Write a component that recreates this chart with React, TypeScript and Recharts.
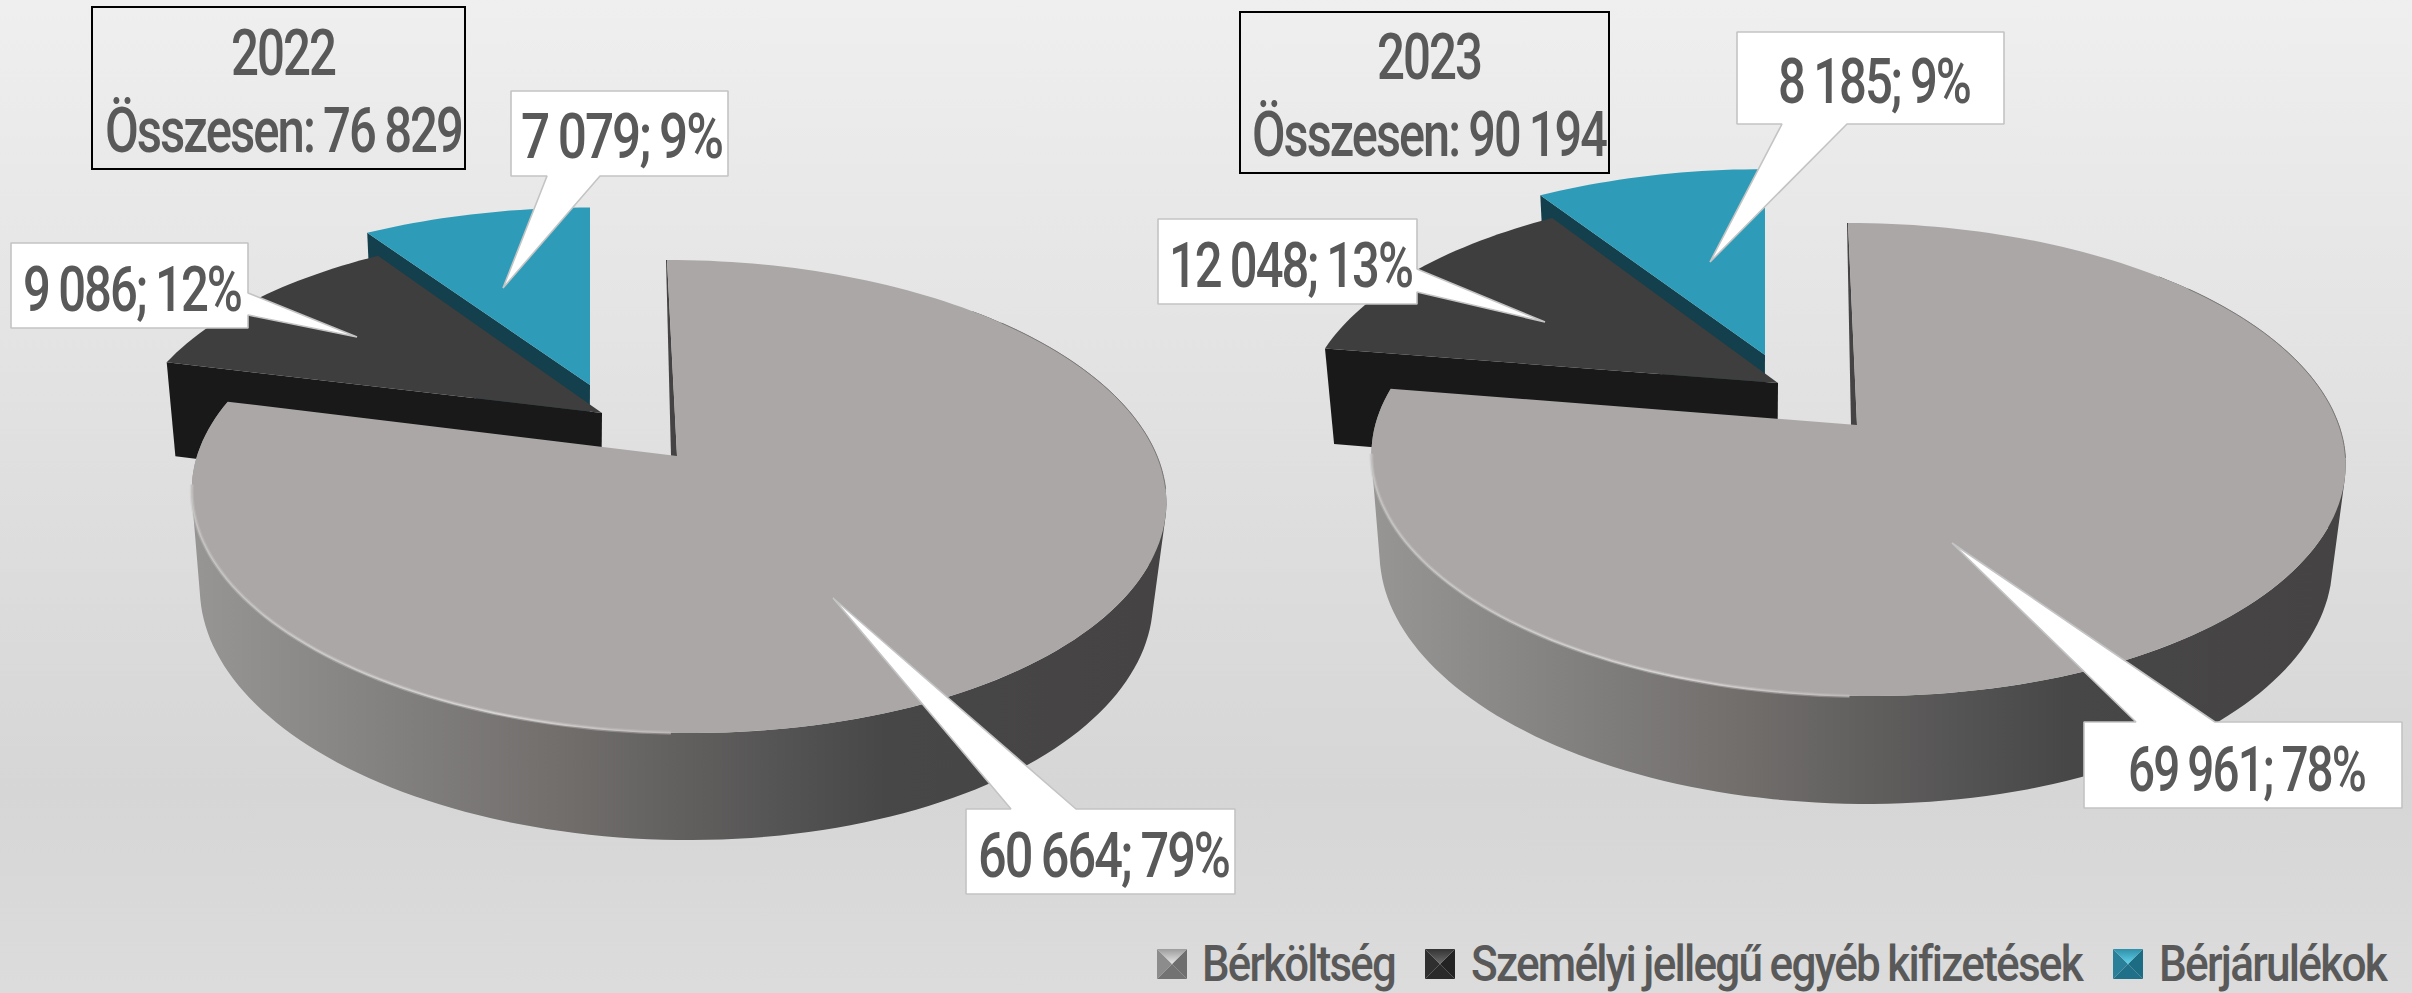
import React from "react";
import { PieChart, Pie, Legend } from "recharts";

const seriesNames = ["Bérköltség", "Személyi jellegű egyéb kifizetések", "Bérjárulékok"];
const values2022 = [60664, 9086, 7079];
const values2023 = [69961, 12048, 8185];
const years = ["2022", "2023"];
const totals = ["Összesen: 76 829", "Összesen: 90 194"];

const rows = (vals: number[]) =>
  seriesNames.map((name, i) => ({ name, value: vals[i] })).reverse();

const FONT = "Roboto";
const TEXT = "#595959";

type Pt = [number, number];
const view2022 = {
  id: "a", a: 480, b: 229.6, p: 0.171, vx: 562, s: 0.978, off: 96, sy: 1.04,
  slices: [
    { cx: 677, cy: 456, rx: 1, ry: 1, sh: 11.7 },
    { cx: 602, cy: 413, rx: 0.975, ry: 0.935, sh: 0 },
    { cx: 590, cy: 385, rx: 0.97, ry: 0.905, sh: 0 },
  ],
  labels: [
    { box: [966, 809, 1235, 894], ptr: [[1011, 809], [833, 598], [1076, 809]], tx: [978, 1229], base: 877 },
    { box: [11, 243, 248, 328], ptr: [[248, 293], [357, 337], [248, 315]], tx: [23, 241], base: 311 },
    { box: [511, 91, 728, 176], ptr: [[600, 176], [503, 288], [547, 176]], tx: [521, 722], base: 158 },
  ],
};
const view2023 = {
  id: "b", a: 481.8, b: 231.5, p: 0.146, vx: 1742, s: 0.978, off: 97, sy: 1.04,
  slices: [
    { cx: 1857, cy: 425, rx: 1, ry: 1, sh: 10.3 },
    { cx: 1778, cy: 383, rx: 0.975, ry: 0.95, sh: 0 },
    { cx: 1765, cy: 355, rx: 0.97, ry: 0.92, sh: 0 },
  ],
  labels: [
    { box: [2084, 722, 2402, 808], ptr: [[2136, 722], [1952, 543], [2215, 722]], tx: [2128, 2365], base: 791 },
    { box: [1158, 219, 1417, 304], ptr: [[1417, 269], [1545, 322], [1417, 292]], tx: [1169, 1412], base: 287 },
    { box: [1737, 32, 2004, 124], ptr: [[1847, 124], [1710, 262], [1782, 124]], tx: [1778, 1970], base: 103 },
  ],
};
type View = typeof view2022;

const topColors = ["#aba7a6", "#3e3e3e", "#2e9cb8"];
const wallColors = ["#454343", "#191919", "#143f4c"];

function rimPoint(v: View, i: number, deg: number): Pt {
  const g = v.slices[i];
  const t = (deg * Math.PI) / 180;
  const X = Math.sin(t);
  const Y = -Math.cos(t);
  const w = 1 - v.p * Y;
  return [g.cx + (v.a * g.rx * X + g.sh * Y) / w, g.cy + (v.b * g.ry * Y) / w];
}
function lower(v: View, i: number, q: Pt): Pt {
  const g = v.slices[i];
  return [v.vx + (q[0] - v.vx) * v.s, g.cy + (q[1] - g.cy) * v.sy + v.off];
}
function arc(v: View, i: number, from: number, to: number): Pt[] {
  const n = Math.max(2, Math.ceil(Math.abs(to - from) / 1.5));
  const out: Pt[] = [];
  for (let k = 0; k <= n; k++) out.push(rimPoint(v, i, from + ((to - from) * k) / n));
  return out;
}
const toPath = (pts: Pt[], close = true) =>
  "M" + pts.map((q) => `${q[0].toFixed(1)} ${q[1].toFixed(1)}`).join("L") + (close ? "Z" : "");

function sweep(v: View, i: number, rim: Pt[]): string {
  let d = "";
  for (let k = 0; k < rim.length - 1; k++) {
    const q: Pt[] = [rim[k], rim[k + 1], lower(v, i, rim[k + 1]), lower(v, i, rim[k])];
    let area = 0;
    for (let j = 0; j < 4; j++) {
      const a = q[j], b = q[(j + 1) % 4];
      area += a[0] * b[1] - b[0] * a[1];
    }
    d += toPath(area < 0 ? q.slice().reverse() : q);
  }
  return d;
}

function Slice(props: any, v: View) {
  const i = seriesNames.indexOf(props.name);
  const g = v.slices[i];
  const t1 = 90 - props.endAngle;
  const t2 = 90 - props.startAngle;
  const rim = arc(v, i, t1, t2);
  const apex: Pt = [g.cx, g.cy];
  const face = toPath([apex, ...rim]);
  const gid = `wall-${v.id}`;
  const hid = `hl-${v.id}`;
  if (i === 0) {
    const first = rim[0];
    // the far end of the rim has no visible wall: start the sweep past it
    const nearRim = arc(v, i, t1 + 45, t2);
    const highlight = toPath(arc(v, i, -97, -178), false);
    return (
      <g>
        <defs>
          <linearGradient id={gid} gradientUnits="userSpaceOnUse" x1={g.cx - 478} x2={g.cx + 476} y1="0" y2="0">
            <stop offset="0" stopColor="#969594" />
            <stop offset="0.17" stopColor="#868483" />
            <stop offset="0.39" stopColor="#706d6b" />
            <stop offset="0.61" stopColor="#555454" />
            <stop offset="0.72" stopColor="#484747" />
            <stop offset="1" stopColor="#454343" />
          </linearGradient>
          <linearGradient id={hid} gradientUnits="userSpaceOnUse" x1={g.cx - 490} x2={g.cx + 120} y1="0" y2="0">
            <stop offset="0" stopColor="#c4c2c1" />
            <stop offset="0.5" stopColor="#d6d4d3" />
            <stop offset="1" stopColor="#aba7a6" />
          </linearGradient>
        </defs>
        <path d={sweep(v, i, nearRim)} fill={`url(#${gid})`} />
        <path d={toPath([[first[0] - 1, first[1]], first, apex, [g.cx - 6, g.cy]])} fill={wallColors[0]} />
        <path d={face} fill={topColors[0]} />
        <path d={highlight} fill="none" stroke={`url(#${hid})`} strokeWidth={4} strokeOpacity={0.4} />
        <path d={highlight} fill="none" stroke={`url(#${hid})`} strokeWidth={1.6} />
        <path d={toPath(arc(v, i, -310, -262), false)} fill="none" stroke="#7d7a79" strokeWidth={1} />
      </g>
    );
  }
  const start = rim[0];
  const cut: Pt[] = [start, apex, lower(v, i, apex), lower(v, i, start)];
  return (
    <g>
      <path d={toPath(cut)} fill={wallColors[i]} />
      <path d={face} fill={topColors[i]} />
    </g>
  );
}

const fmtValue = (n: number) => String(n).replace(/\B(?=(\d{3})+$)/g, " ");

let measureCtx: CanvasRenderingContext2D | null = null;
function naturalWidth(s: string, size: number, ls: number, ws: number) {
  if (!measureCtx) measureCtx = document.createElement("canvas").getContext("2d");
  measureCtx!.font = `500 ${size}px ${FONT}`;
  const spaces = s.split(" ").length - 1;
  return measureCtx!.measureText(s).width + ls * s.length + ws * spaces;
}

function FitText({ x0, x1, y, size, children }: any) {
  const s = String(children);
  const ls = -size * 0.04;
  const ws = -size * 0.02;
  const sx = (x1 - x0) / naturalWidth(s, size, ls, ws);
  return (
    <text transform={`translate(${x0} ${y}) scale(${sx.toFixed(4)} 1)`} fontFamily={FONT} fontWeight={500}
      fontSize={size} fill={TEXT} letterSpacing={ls} wordSpacing={ws}>
      {s}
    </text>
  );
}

function Callout(props: any, v: View) {
  const i = seriesNames.indexOf(props.name);
  const l = v.labels[i];
  const [x0, y0, x1, y1] = l.box;
  const ptr = l.ptr as Pt[];
  let pts: Pt[];
  if (ptr[0][1] === y0 && ptr[2][1] === y0) {
    pts = [[x0, y0], ptr[0], ptr[1], ptr[2], [x1, y0], [x1, y1], [x0, y1]];
  } else if (ptr[0][0] === x1) {
    pts = [[x0, y0], [x1, y0], ptr[0], ptr[1], ptr[2], [x1, y1], [x0, y1]];
  } else {
    pts = [[x0, y0], [x1, y0], [x1, y1], ptr[0], ptr[1], ptr[2], [x0, y1]];
  }
  return (
    <g>
      <path d={toPath(pts)} fill="#ffffff" stroke="#c4c4c4" strokeWidth={1.6} strokeLinejoin="bevel" />
      <FitText x0={l.tx[0]} x1={l.tx[1]} y={l.base} size={63}>
        {`${fmtValue(props.value)}; ${Math.round(props.percent * 100)}%`}
      </FitText>
    </g>
  );
}

function TitleBox({ i, box, yr, tot }: any) {
  return (
    <g>
      <rect x={box[0]} y={box[1]} width={box[2] - box[0]} height={box[3] - box[1]} fill="none" stroke="#000" strokeWidth={2} />
      <FitText x0={yr[0]} x1={yr[1]} y={yr[2]} size={64}>{years[i]}</FitText>
      <FitText x0={tot[0]} x1={tot[1]} y={tot[2]} size={63}>{totals[i]}</FitText>
    </g>
  );
}

const legendColors = [
  ["#9c9c9c", "#e6e6e6", "#8c8c8c", "#6e6e6e", "#727272"],
  ["#333333", "#6c6c6c", "#2f2f2f", "#232323", "#2a2a2a"],
  ["#2f8fa8", "#62d2ec", "#2a8098", "#1c6c84", "#1f7088"],
];
const legendSpots = [
  { m: 1157, t: [1202, 1395] },
  { m: 1425, t: [1471, 2081] },
  { m: 2113, t: [2159, 2386] },
];

function LegendBody() {
  const top = 949, size = 30;
  return (
    <svg width={2412} height={993} style={{ position: "absolute", left: 0, top: 0 }}>
      {seriesNames.map((n, i) => {
        const s = legendSpots[i];
        const x = s.m, y = top, c = legendColors[i];
        const cx = x + size / 2, cy = y + size / 2;
        return (
          <g key={n}>
            <defs>
              <linearGradient id={`lg${i}`} x1="0" x2="0" y1="0" y2="1">
                <stop offset="0" stopColor={c[0]} />
                <stop offset="1" stopColor={c[1]} />
              </linearGradient>
            </defs>
            <polygon points={`${x},${y + size} ${x + size},${y + size} ${cx},${cy}`} fill={c[4]} />
            <polygon points={`${x},${y} ${x},${y + size} ${cx},${cy}`} fill={c[2]} />
            <polygon points={`${x + size},${y} ${x + size},${y + size} ${cx},${cy}`} fill={c[3]} />
            <polygon points={`${x},${y} ${x + size},${y} ${cx},${cy}`} fill={`url(#lg${i})`} />
            <FitText x0={s.t[0]} x1={s.t[1]} y={981} size={50}>{n}</FitText>
          </g>
        );
      })}
    </svg>
  );
}

export default function App() {
  return (
    <div style={{
      position: "fixed", left: 0, top: 0, width: 2412, height: 993, overflow: "hidden",
      background: "linear-gradient(180deg,#efefef 0%,#e0e0e0 45%,#d6d6d6 80%,#dcdcdc 100%)",
    }}>
      <PieChart width={2412} height={993} margin={{ top: 0, right: 0, bottom: 0, left: 0 }}>
        <Pie data={rows(values2022)} dataKey="value" nameKey="name" cx={677} cy={456} outerRadius={200}
          startAngle={90} endAngle={450} stroke="none" isAnimationActive={false} labelLine={false}
          shape={(p: any) => Slice(p, view2022)} label={(p: any) => Callout(p, view2022)} />
        <Pie data={rows(values2023)} dataKey="value" nameKey="name" cx={1857} cy={425} outerRadius={200}
          startAngle={90} endAngle={450} stroke="none" isAnimationActive={false} labelLine={false}
          shape={(p: any) => Slice(p, view2023)} label={(p: any) => Callout(p, view2023)} />
        <TitleBox i={0} box={[92, 7, 465, 169]} yr={[231, 335, 75]} tot={[105, 462, 152]} />
        <TitleBox i={1} box={[1240, 12, 1609, 173]} yr={[1377, 1481, 79]} tot={[1252, 1606, 156]} />
        <Legend content={() => <LegendBody />} wrapperStyle={{ left: 0, top: 0, width: 2412, height: 993, pointerEvents: "none" }} />
      </PieChart>
    </div>
  );
}
